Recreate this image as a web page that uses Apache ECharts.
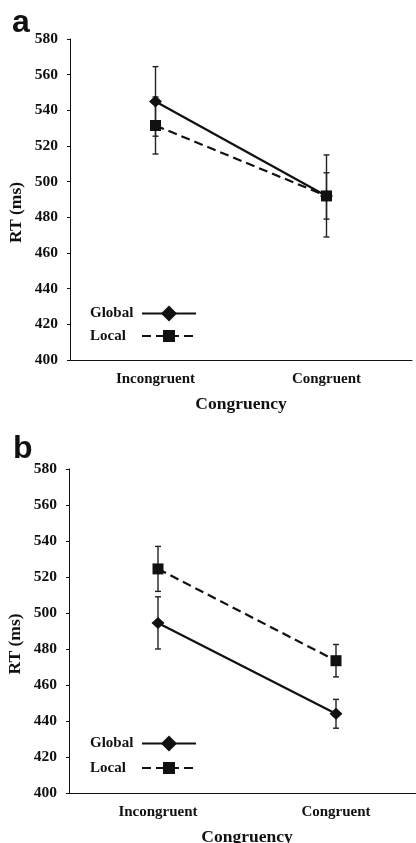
<!DOCTYPE html>
<html>
<head>
<meta charset="utf-8">
<script src="https://cdn.jsdelivr.net/npm/echarts@6/dist/echarts.min.js"></script>
<style>
  html, body { margin: 0; padding: 0; background: #fff; }
  #chart { width: 416px; height: 843px; }
</style>
</head>
<body>
<div id="chart"></div>
<script>
  // categories and values
  var categories = ['Incongruent', 'Congruent'];
  var globalA = [545, 492];
  var globalAErr = [19.5, 23];
  var localA = [531.5, 492];
  var localAErr = [16, 13];
  var globalB = [494.5, 444];
  var globalBErr = [14.5, 8];
  var localB = [524.5, 473.5];
  var localBErr = [12.5, 9];
  var yMin = 400, yMax = 580, yStep = 20;

  var serif = 'Liberation Serif';
  var ink = '#111';

  function errData(vals, errs) {
    return vals.map(function (v, i) { return [i, v, errs[i]]; });
  }

  function renderErr(params, api) {
    var i = api.value(0), v = api.value(1), e = api.value(2);
    var top = api.coord([i, v + e]);
    var bot = api.coord([i, v - e]);
    var cap = 3;
    var st = { stroke: '#222', lineWidth: 1.4 };
    return {
      type: 'group',
      children: [
        { type: 'line', shape: { x1: top[0], y1: top[1], x2: bot[0], y2: bot[1] }, style: st },
        { type: 'line', shape: { x1: top[0] - cap, y1: top[1], x2: top[0] + cap, y2: top[1] }, style: st },
        { type: 'line', shape: { x1: bot[0] - cap, y1: bot[1], x2: bot[0] + cap, y2: bot[1] }, style: st }
      ]
    };
  }

  function xAxis(idx) {
    return {
      type: 'category', gridIndex: idx, data: categories,
      axisLine: { lineStyle: { color: ink, width: 1 } },
      axisTick: { length: 4, lineStyle: { color: ink } },
      axisLabel: { margin: 12, color: ink, fontFamily: serif, fontWeight: 'bold', fontSize: 15 },
      name: 'Congruency', nameLocation: 'middle', nameGap: 35, nameMoveOverlap: false,
      nameTextStyle: { color: ink, fontFamily: serif, fontWeight: 'bold', fontSize: 17.5 }
    };
  }

  function yAxis(idx) {
    return {
      type: 'value', gridIndex: idx, min: yMin, max: yMax, interval: yStep,
      axisLine: { show: true, lineStyle: { color: ink, width: 1 } },
      axisTick: { show: true, length: 3, lineStyle: { color: ink } },
      splitLine: { show: false },
      axisLabel: { margin: 12, color: ink, fontFamily: serif, fontWeight: 'bold', fontSize: 15.5 },
      name: 'RT (ms)', nameLocation: 'middle', nameGap: 45, nameRotate: 90, nameMoveOverlap: false,
      nameTextStyle: { color: ink, fontFamily: serif, fontWeight: 'bold', fontSize: 17.5, padding: [0, 26, 0, 0] }
    };
  }

  function legendItem(name, top, h) {
    return {
      data: [name], orient: 'vertical', align: 'right', left: 90, top: top, padding: 0,
      itemWidth: 54, itemHeight: h, selectedMode: false,
      lineStyle: { width: 2 },
      formatter: function (n) { return '{t|' + n + '}'; },
      textStyle: {
        rich: { t: { width: 47, align: 'left', color: ink, fontFamily: serif, fontWeight: 'bold', fontSize: 15 } }
      }
    };
  }

  function lineSeries(name, idx, vals, dashed) {
    return {
      name: name, type: 'line', xAxisIndex: idx, yAxisIndex: idx, data: vals,
      symbol: dashed ? 'rect' : 'diamond',
      symbolSize: dashed ? [11, 11] : [13, 12],
      z: 3,
      itemStyle: { color: ink },
      lineStyle: { color: ink, width: 2.2, type: dashed ? [9, 5] : 'solid' },
      emphasis: { disabled: true }
    };
  }

  function errSeries(idx, vals, errs) {
    return {
      type: 'custom', xAxisIndex: idx, yAxisIndex: idx, z: 1,
      data: errData(vals, errs), renderItem: renderErr,
      encode: { x: 0, y: 1 }, silent: true
    };
  }

  var chart = echarts.init(document.getElementById('chart'));
  chart.setOption({
    animation: false,
    backgroundColor: '#fff',
    title: [
      { text: 'a', left: 12, top: 7, padding: 0,
        textStyle: { fontFamily: 'Liberation Sans', fontWeight: 'bold', fontSize: 32, color: ink } },
      { text: 'b', left: 13, top: 433, padding: 0,
        textStyle: { fontFamily: 'Liberation Sans', fontWeight: 'bold', fontSize: 32, color: ink } }
    ],
    grid: [
      { left: 70, top: 39, width: 342, height: 321, outerBoundsMode: 'none' },
      { left: 69, top: 469, width: 356, height: 324, outerBoundsMode: 'none' }
    ],
    xAxis: [xAxis(0), xAxis(1)],
    yAxis: [yAxis(0), yAxis(1)],
    legend: [
      legendItem('Global', 305.5, 20),
      legendItem('Local', 328.5, 15),
      legendItem('Global', 735.5, 20),
      legendItem('Local', 760.5, 15)
    ],
    series: [
      errSeries(0, globalA, globalAErr),
      errSeries(0, localA, localAErr),
      lineSeries('Global', 0, globalA, false),
      lineSeries('Local', 0, localA, true),
      errSeries(1, globalB, globalBErr),
      errSeries(1, localB, localBErr),
      lineSeries('Global', 1, globalB, false),
      lineSeries('Local', 1, localB, true)
    ]
  });
</script>
</body>
</html>
